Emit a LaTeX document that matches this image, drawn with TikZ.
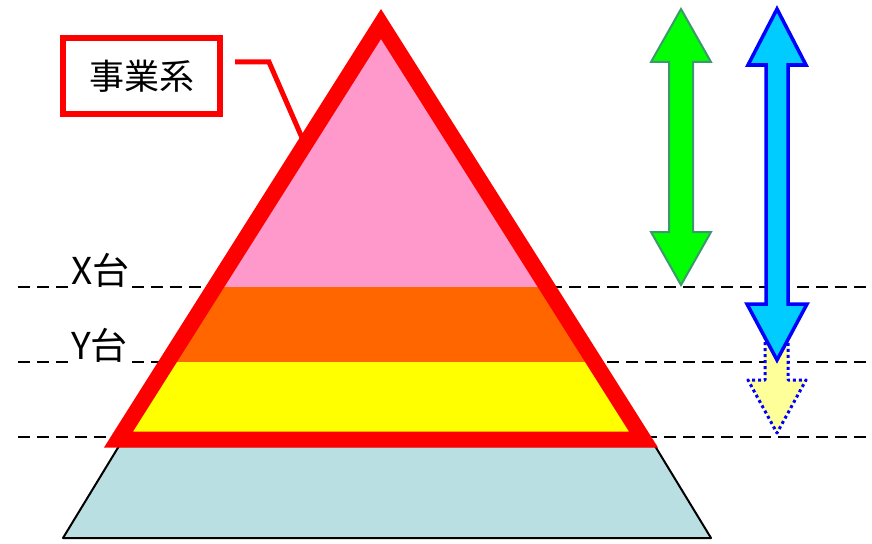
\documentclass[tikz,border=0pt]{standalone}
\usepackage{fontspec}
\newfontfamily\jp{Noto Sans CJK JP}
\definecolor{pyrpink}{HTML}{FF99CC}
\definecolor{pyrorange}{HTML}{FF6600}
\definecolor{pyryellow}{HTML}{FFFF00}
\definecolor{pyrred}{HTML}{FF0000}
\definecolor{basecol}{HTML}{BADFE3}
\definecolor{grnfill}{HTML}{00FF00}
\definecolor{grnline}{HTML}{3C9A6A}
\definecolor{cyanfill}{HTML}{00CCFF}
\definecolor{bluline}{HTML}{0000FF}
\definecolor{paleyel}{HTML}{FFFF99}
\begin{document}
\begin{tikzpicture}[x=1pt,y=-1pt,
  guide/.style={black, line width=2.8pt, dash pattern=on 12pt off 7pt},
  lvl/.style={fill=white, inner xsep=2pt, inner ysep=1pt, anchor=base west, font=\jp\fontsize{37}{37}\selectfont},
  redline/.style={draw=pyrred, line width=16pt, miter limit=20},
]
\useasboundingbox (0,0) rectangle (872,543);
\fill[white] (0,0) rectangle (872,543);

% guide lines
\draw[guide] (18,287) -- (872,287);
\draw[guide] (18,362) -- (872,362);
\draw[guide] (18,437) -- (872,437);

% level labels
\node[lvl] (xlab) at (69,284) {X台};
\node[lvl] (ylab) at (69,359) {Y台};

% base trapezoid
\filldraw[fill=basecol, draw=black, line width=2pt, line join=round]
  (119,446) -- (655,446) -- (711,538) -- (63,538) -- cycle;

% triangle
\coordinate (apex) at (381,24);
\coordinate (bl) at (118.5,439.5);
\coordinate (br) at (643.5,439.5);
\begin{scope}
  \clip (apex) -- (bl) -- (br) -- cycle;
  \fill[pyrpink] (90,0) rectangle (700,287);
  \fill[pyrorange] (90,287) rectangle (700,362);
  \fill[pyryellow] (90,362) rectangle (700,460);
\end{scope}

% callout box and leader
\node[draw=pyrred, line width=6pt, minimum width=157pt, minimum height=76pt, inner sep=0pt,
      font=\jp\fontsize{35}{35}\selectfont] (biz) at (141.5,76) {事業系};
\coordinate (c1) at (235,62);
\coordinate (c2) at (269,62);
\coordinate (c3) at (303,140);
\draw[pyrred, line width=5pt] (c1) -- (c2) -- (c3);

\draw[redline] (apex) -- (bl) -- (br) -- cycle;

% green double arrow
\filldraw[fill=grnfill, draw=grnline, line width=2pt]
  (681,9) -- (711,62) -- (693,62) -- (693,232) -- (711,232) -- (681,285)
  -- (651,232) -- (669,232) -- (669,62) -- (651,62) -- cycle;

% pale yellow dotted arrow (behind the blue one)
\fill[paleyel] (765,330) -- (765,380) -- (748,380) -- (777,433) -- (806,380) -- (788,380) -- (788,330) -- cycle;
\draw[bluline, line width=3pt, dash pattern=on 3pt off 3pt, line join=round]
  (765,330) -- (765,380) -- (748,380) -- (777,433) -- (806,380) -- (788,380) -- (788,330);

% blue double arrow
\filldraw[fill=cyanfill, draw=bluline, line width=3.5pt]
  (777,9) -- (806,65) -- (788,65) -- (788,304) -- (807,304) -- (777,360)
  -- (747,304) -- (766,304) -- (766,65) -- (748,65) -- cycle;
\end{tikzpicture}
\end{document}
